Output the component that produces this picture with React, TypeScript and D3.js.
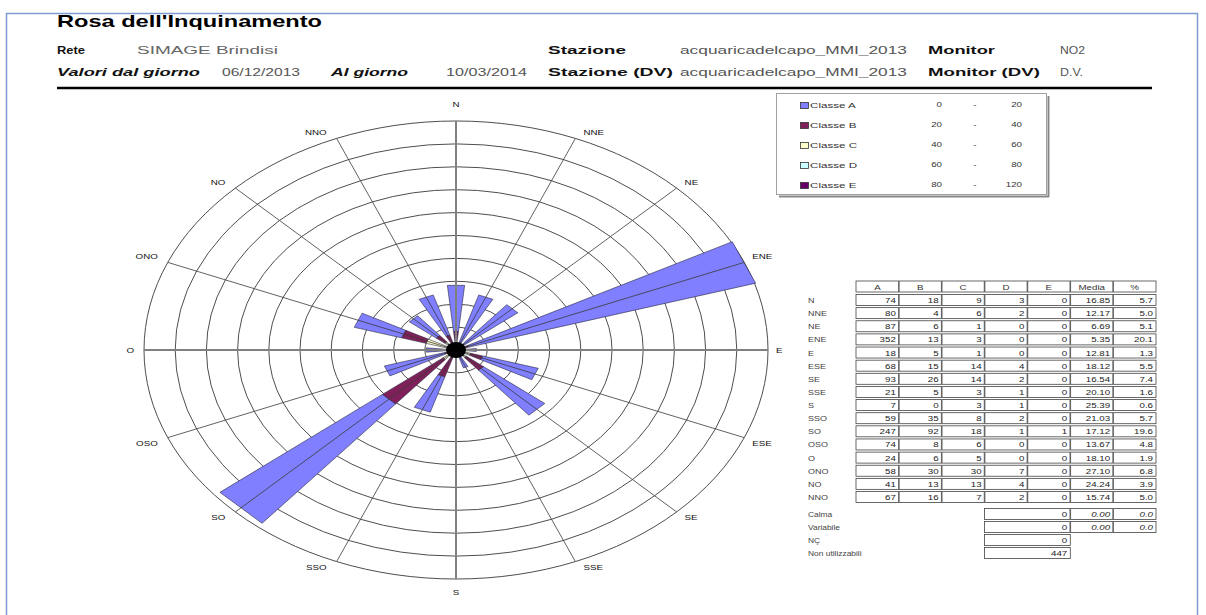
import React from "react";
import * as d3 from "d3";

// ---------- data ----------
const directions = ["N","NNE","NE","ENE","E","ESE","SE","SSE","S","SSO","SO","OSO","O","ONO","NO","NNO"];
const classA = [74,80,87,352,18,68,93,21,7,59,247,74,24,58,41,67];
const classB = [18,4,6,13,5,15,26,5,0,35,92,8,6,30,13,16];
const classC = [9,6,1,3,1,14,14,3,3,8,18,6,5,30,13,7];
const classD = [3,2,0,0,0,4,2,1,1,2,1,0,0,7,4,2];
const classE = [0,0,0,0,0,0,0,0,0,0,1,0,0,0,0,0];
const media = ["16.85","12.17","6.69","5.35","12.81","18.12","16.54","20.10","25.39","21.03","17.12","13.67","18.10","27.10","24.24","15.74"];
const percent = ["5.7","5.0","5.1","20.1","1.3","5.5","7.4","1.6","0.6","5.7","19.6","4.8","1.9","6.8","3.9","5.0"];
const tableHeaders = ["A","B","C","D","E","Media","%"];
const legendClasses = ["Classe A","Classe B","Classe C","Classe D","Classe E"];
const legendLow = [0,20,40,60,80];
const legendHigh = [20,40,60,80,120];
const ringTicks = [2,4,6,8,10,12,14,16,18,20];
const extraLabels = ["Calma","Variabile","NÇ","Non utilizzabili"];
const extraCount = ["0","0","0","447"];
const extraMedia = ["0.00","0.00",null,null];
const extraPct = ["0.0","0.0",null,null];

const classColors = ["#7f7fff","#80205a","#ffffcc","#ccffff","#660066"];

// ---------- layout ----------
const W = 1206, H = 615;
const cx = 456, cy = 350, rx = 312, ry = 229;
const FONT = "Liberation Sans, Arial, Helvetica, sans-serif";

function T({ x, y, size = 8, sx = 1.3, anchor = "start", weight = "normal", italic = false, fill = "#111", children }: any) {
  return (
    <text transform={`translate(${x},${y}) scale(${sx},1)`} fontSize={size} textAnchor={anchor}
      fontWeight={weight} fontStyle={italic ? "italic" : "normal"} fill={fill} fontFamily={FONT}>
      {children}
    </text>
  );
}

function TL({ x, y, w, size = 11, weight = "normal", italic = false, fill = "#111", children }: any) {
  return (
    <text x={x} y={y} textLength={w} lengthAdjust="spacingAndGlyphs" fontSize={size}
      fontWeight={weight} fontStyle={italic ? "italic" : "normal"} fill={fill} fontFamily={FONT}>
      {children}
    </text>
  );
}

export default function App() {
  const rScale = d3.scaleLinear().domain([0, 20]).range([0, 1]);
  const angScale = d3.scaleLinear().domain([0, directions.length]).range([0, 360]);
  const pt = (r: number, deg: number): [number, number] => {
    const a = (deg * Math.PI) / 180;
    return [cx + rx * r * Math.sin(a), cy - ry * r * Math.cos(a)];
  };
  const series = [classE, classD, classC, classB, classA];
  const seriesColors = [classColors[4], classColors[3], classColors[2], classColors[1], classColors[0]];
  const total = d3.sum(series.map((s) => d3.sum(s)));
  const halfW = 5.6;
  const line = d3.line();

  const bars: any[] = [];
  directions.forEach((d, i) => {
    const th = angScale(i);
    let cum = 0;
    series.forEach((s, k) => {
      const v = s[i];
      if (v <= 0) return;
      const r0 = rScale((cum / total) * 100);
      const r1 = rScale(((cum + v) / total) * 100);
      cum += v;
      const pts = [pt(r0, th - halfW), pt(r1, th - halfW), pt(r1, th + halfW), pt(r0, th + halfW)];
      bars.push(<path key={`${d}-${k}`} d={line(pts) + "Z"} fill={seriesColors[k]} stroke="#2a2a40" strokeWidth={0.6} />);
    });
  });

  const rowY = d3.scalePoint().domain(directions).range([300, 497]);
  const colX = d3.scaleBand().domain(tableHeaders).range([856, 1156]);
  const bw = colX.bandwidth();
  const legY = d3.scalePoint().domain(legendClasses).range([105, 185]);
  const extraY = d3.scalePoint().domain(extraLabels).range([514, 553]);

  const rowBox = (y: number, x0: number, x1: number, cols: number[], key: string) => (
    <g key={key}>
      <rect x={x0} y={y - 5.5} width={x1 - x0} height={11} fill="#fff" stroke="#444" strokeWidth={0.8} />
      {cols.map((cxp, j) => (
        <line key={j} x1={cxp} x2={cxp} y1={y - 5.5} y2={y + 5.5} stroke="#666" strokeWidth={1.6} />
      ))}
    </g>
  );

  const sepCols = tableHeaders.slice(1).map((h) => colX(h) as number);

  return (
    <svg width={W} height={H} viewBox={`0 0 ${W} ${H}`} style={{ position: "absolute", left: 0, top: 0, background: "#fff" }}>
      <rect x={0} y={0} width={W} height={H} fill="#fff" />
      {/* frame */}
      <rect x={6.5} y={13.5} width={1191} height={700} fill="none" stroke="#7d9bd1" strokeWidth={1.5} />

      {/* header */}
      <TL x={57} y={27} w={265} size={17} weight="bold" fill="#000">Rosa dell'Inquinamento</TL>
      <TL x={57} y={54} w={28} size={10.5} weight="bold">Rete</TL>
      <TL x={137} y={54} w={141} size={10.5} fill="#666">SIMAGE Brindisi</TL>
      <TL x={548} y={54} w={78} size={10.5} weight="bold">Stazione</TL>
      <TL x={680} y={54} w={227} size={10.5} fill="#555">acquaricadelcapo_MMI_2013</TL>
      <TL x={928} y={54} w={67} size={10.5} weight="bold">Monitor</TL>
      <TL x={1060} y={54} w={25} size={10.5} fill="#555">NO2</TL>

      <TL x={57} y={76} w={143} size={10.5} weight="bold" italic>Valori dal giorno</TL>
      <TL x={222} y={76} w={78} size={10.5} fill="#555">06/12/2013</TL>
      <TL x={331} y={76} w={77} size={10.5} weight="bold" italic>Al giorno</TL>
      <TL x={446} y={76} w={81} size={10.5} fill="#555">10/03/2014</TL>
      <TL x={548} y={76} w={125} size={10.5} weight="bold">Stazione (DV)</TL>
      <TL x={680} y={76} w={227} size={10.5} fill="#555">acquaricadelcapo_MMI_2013</TL>
      <TL x={928} y={76} w={112} size={10.5} weight="bold">Monitor (DV)</TL>
      <TL x={1060} y={76} w={23} size={10.5} fill="#555">D.V.</TL>
      <line x1={57} x2={1152} y1={88} y2={88} stroke="#000" strokeWidth={2.5} />

      {/* rings */}
      {ringTicks.map((v) => (
        <ellipse key={v} cx={cx} cy={cy} rx={rx * rScale(v)} ry={ry * rScale(v)} fill="none" stroke="#3a3a3a" strokeWidth={0.9} />
      ))}
      {/* bars */}
      {bars}
      {/* spokes */}
      {directions.map((d, i) => {
        const th = angScale(i);
        const [x2, y2] = pt(1, th);
        const major = i % 4 === 0;
        return (
          <line key={d} x1={cx} y1={cy} x2={x2} y2={y2} stroke={major ? "#808080" : "#3a3a3a"} strokeWidth={major ? 2 : 0.8} />
        );
      })}
      <ellipse cx={cx} cy={cy} rx={10} ry={8} fill="#000" />

      {/* direction labels */}
      {directions.map((d, i) => {
        const th = angScale(i);
        const [x, y] = pt(1, th);
        const s = Math.sin((th * Math.PI) / 180);
        const c = Math.cos((th * Math.PI) / 180);
        if (Math.abs(s) < 0.01) {
          return <T key={d} x={x} y={c > 0 ? y - 14 : y + 16} size={7.5} sx={1.3} anchor="middle">{d}</T>;
        }
        const dy = Math.abs(c) < 0.01 ? 3 : c > 0 ? -3 : 8;
        return (
          <T key={d} x={s > 0 ? x + 8 : x - 10} y={y + dy} size={7.5} sx={1.3} anchor={s > 0 ? "start" : "end"}>{d}</T>
        );
      })}

      {/* legend */}
      <line x1={1048.5} x2={1048.5} y1={96} y2={197} stroke="#888" strokeWidth={2} />
      <line x1={779} x2={1049} y1={196.5} y2={196.5} stroke="#888" strokeWidth={2} />
      <rect x={776.5} y={93.5} width={270} height={101} fill="#fff" stroke="#a0a0a0" strokeWidth={1} />
      {legendClasses.map((c, i) => {
        const y = legY(c) as number;
        return (
          <g key={c}>
            <rect x={800.5} y={y - 2.5} width={8} height={6} fill={classColors[i]} stroke="#333" strokeWidth={0.8} />
            <T x={810} y={y + 3} size={7.5} sx={1.55} fill="#333">{c}</T>
            <T x={942} y={y + 2} size={7.5} sx={1.3} anchor="end" fill="#333">{legendLow[i]}</T>
            <T x={975} y={y + 2} size={7.5} sx={1.3} anchor="middle" fill="#333">-</T>
            <T x={1022} y={y + 2} size={7.5} sx={1.3} anchor="end" fill="#333">{legendHigh[i]}</T>
          </g>
        );
      })}

      {/* table header */}
      {rowBox(286.5, 856, 1156, sepCols, "hdr")}
      {tableHeaders.map((h) => (
        <T key={h} x={(colX(h) as number) + bw / 2} y={289.5} size={7.5} sx={1.3} anchor="middle" fill="#333">{h}</T>
      ))}
      {/* table rows */}
      {directions.map((d, i) => {
        const y = rowY(d) as number;
        const vals = [classA[i], classB[i], classC[i], classD[i], classE[i], media[i], percent[i]];
        return (
          <g key={d}>
            <T x={808} y={y + 3} size={7.5} sx={1.2} fill="#444">{d}</T>
            {rowBox(y, 856, 1156, sepCols, "r" + d)}
            {vals.map((v, j) => (
              <T key={j} x={(colX(tableHeaders[j]) as number) + bw - 3} y={y + 3} size={7.5} sx={1.3} anchor="end" fill="#222">{v}</T>
            ))}
          </g>
        );
      })}

      {/* extra rows */}
      {extraLabels.map((l, i) => {
        const y = extraY(l) as number;
        const x0 = colX("D") as number;
        const xM = colX("Media") as number;
        const xP = colX("%") as number;
        const hasMore = extraMedia[i] !== null;
        return (
          <g key={l}>
            <T x={808} y={y + 3} size={7} sx={1.2} fill="#444">{l}</T>
            {hasMore ? rowBox(y, x0, 1156, [xM, xP], "e" + i) : rowBox(y, x0, xM, [], "e" + i)}
            <T x={xM - 3} y={y + 3} size={7.5} sx={1.3} anchor="end" fill="#222">{extraCount[i]}</T>
            {hasMore && <T x={xP - 3} y={y + 3} size={7.5} sx={1.3} anchor="end" fill="#222" italic>{extraMedia[i]}</T>}
            {hasMore && <T x={1153} y={y + 3} size={7.5} sx={1.3} anchor="end" fill="#222" italic>{extraPct[i]}</T>}
          </g>
        );
      })}
    </svg>
  );
}
